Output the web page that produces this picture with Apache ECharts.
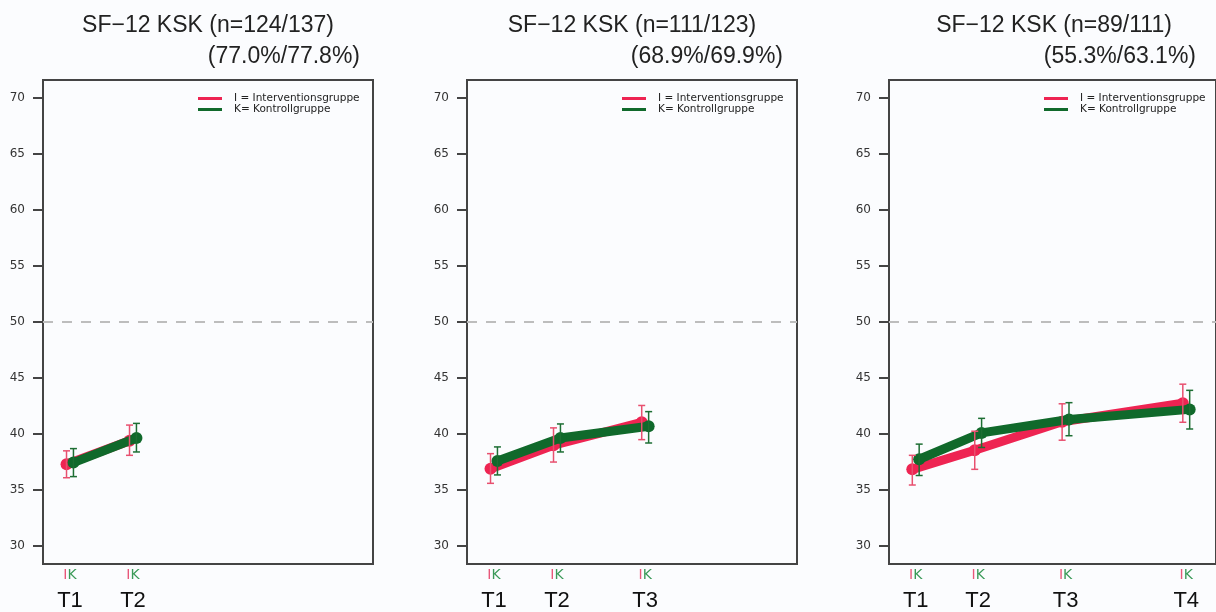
<!DOCTYPE html>
<html>
<head>
<meta charset="utf-8">
<script src="https://cdn.jsdelivr.net/npm/echarts@6/dist/echarts.min.js"></script>
<style>
  html, body { margin: 0; padding: 0; background: #fbfcfe; }
  #chart { width: 1216px; height: 612px; }
</style>
</head>
<body>
<div id="chart"></div>
<script>
// time points (x position in study weeks, roughly) and labels
const timeLabels = ['T1', 'T2', 'T3', 'T4'];
const timePos = [0, 6, 14.4, 26];
const yTicks = [30, 35, 40, 45, 50, 55, 60, 65, 70];

const titleLines = ['SF\u221212 KSK (n=124/137)', 'SF\u221212 KSK (n=111/123)', 'SF\u221212 KSK (n=89/111)'];
const subLines = ['(77.0%/77.8%)', '(68.9%/69.9%)', '(55.3%/63.1%)'];

// panel 1
const iMean1 = [37.3, 39.4];
const iLow1 = [36.1, 38.1];
const iHigh1 = [38.5, 40.8];
const kMean1 = [37.45, 39.65];
const kLow1 = [36.2, 38.4];
const kHigh1 = [38.7, 40.95];

// panel 2
const iMean2 = [36.9, 39.0, 41.05];
const iLow2 = [35.6, 37.5, 39.5];
const iHigh2 = [38.25, 40.55, 42.55];
const kMean2 = [37.6, 39.65, 40.7];
const kLow2 = [36.35, 38.4, 39.2];
const kHigh2 = [38.85, 40.9, 42.0];

// panel 3
const iMean3 = [36.85, 38.55, 41.1, 42.75];
const iLow3 = [35.45, 36.85, 39.45, 41.05];
const iHigh3 = [38.1, 40.25, 42.7, 44.45];
const kMean3 = [37.75, 40.1, 41.3, 42.2];
const kLow3 = [36.3, 38.8, 39.85, 40.45];
const kHigh3 = [39.1, 41.4, 42.8, 43.9];

const panels = [
  { i: [iMean1, iLow1, iHigh1], k: [kMean1, kLow1, kHigh1] },
  { i: [iMean2, iLow2, iHigh2], k: [kMean2, kLow2, kHigh2] },
  { i: [iMean3, iLow3, iHigh3], k: [kMean3, kLow3, kHigh3] }
];

const RED = '#ee2452';
const GREEN = '#10692b';
const RED_ERR = '#e8506f';
const GREEN_ERR = '#1d6e33';
const NAME_I = 'I = Interventionsgruppe';
const NAME_K = 'K= Kontrollgruppe';

const gridLeft = [43, 467, 889];
const off = 0.33; // small dodge so I and K don't sit on top of each other

function errRender(color) {
  return function (params, api) {
    const x = api.value(0);
    const top = api.coord([x, api.value(2)]);
    const bot = api.coord([x, api.value(1)]);
    const w = 3.5;
    const style = { stroke: color, lineWidth: 1.5 };
    return {
      type: 'group',
      children: [
        { type: 'line', shape: { x1: top[0], y1: top[1], x2: bot[0], y2: bot[1] }, style },
        { type: 'line', shape: { x1: top[0] - w, y1: top[1], x2: top[0] + w, y2: top[1] }, style },
        { type: 'line', shape: { x1: bot[0] - w, y1: bot[1], x2: bot[0] + w, y2: bot[1] }, style }
      ]
    };
  };
}

const grids = [], xAxes = [], yAxes = [], series = [], legends = [], graphics = [];

panels.forEach((p, n) => {
  const nPts = p.i[0].length;
  const pos = timePos.slice(0, nPts);
  grids.push({
    left: gridLeft[n], top: 80, width: 330, height: 484,
    show: true, borderColor: '#444', borderWidth: 2, backgroundColor: 'transparent'
  });
  xAxes.push({
    type: 'value', gridIndex: n, min: -2.57, max: 28.86,
    axisLine: { show: true, onZero: false, lineStyle: { color: '#444', width: 2 } },
    axisTick: { show: false },
    splitLine: { show: false },
    axisLabel: {
      customValues: pos,
      margin: 4,
      formatter: function (v) {
        let idx = 0;
        timePos.forEach((t, j) => { if (Math.abs(t - v) < 1e-6) idx = j; });
        return '{i|I}{k|K}\n{t|' + timeLabels[idx] + '}';
      },
      rich: {
        i: { color: '#e8577a', fontSize: 14, lineHeight: 15, fontFamily: 'DejaVu Sans' },
        k: { color: '#3a9a58', fontSize: 14, lineHeight: 15, fontFamily: 'DejaVu Sans' },
        t: { color: '#111', fontSize: 22, lineHeight: 36, fontFamily: 'Liberation Sans' }
      }
    }
  });
  yAxes.push({
    type: 'value', gridIndex: n, min: 28.4, max: 71.6,
    axisLine: { show: true, onZero: false, lineStyle: { color: '#444', width: 2 } },
    axisTick: { show: true, length: 10, customValues: yTicks, lineStyle: { color: '#444', width: 2 } },
    splitLine: { show: false },
    axisLabel: {
      customValues: yTicks, margin: 18, color: '#333',
      fontSize: 12, fontFamily: 'DejaVu Sans'
    }
  });

  series.push({
    name: NAME_I, type: 'line', xAxisIndex: n, yAxisIndex: n, z: 2,
    data: pos.map((t, j) => [t - off, p.i[0][j]]),
    symbol: 'circle', symbolSize: 12, itemStyle: { color: RED },
    lineStyle: { color: RED, width: 9 },
    animation: false,
    markLine: {
      silent: true, symbol: 'none', label: { show: false },
      lineStyle: { color: '#bdbdbd', type: [10, 9], width: 2 },
      data: [{ yAxis: 50 }]
    }
  });
  series.push({
    name: NAME_K, type: 'line', xAxisIndex: n, yAxisIndex: n, z: 3,
    data: pos.map((t, j) => [t + off, p.k[0][j]]),
    symbol: 'circle', symbolSize: 12, itemStyle: { color: GREEN },
    lineStyle: { color: GREEN, width: 9 },
    animation: false
  });
  series.push({
    name: 'err I ' + n, type: 'custom', xAxisIndex: n, yAxisIndex: n, z: 4,
    renderItem: errRender(RED_ERR),
    data: pos.map((t, j) => [t - off, p.i[1][j], p.i[2][j]]),
    animation: false
  });
  series.push({
    name: 'err K ' + n, type: 'custom', xAxisIndex: n, yAxisIndex: n, z: 5,
    renderItem: errRender(GREEN_ERR),
    data: pos.map((t, j) => [t + off, p.k[1][j], p.k[2][j]]),
    animation: false
  });

  legends.push({
    left: gridLeft[n] + 150, top: 88, orient: 'vertical',
    itemWidth: 24, itemHeight: 3, itemGap: 0,
    selectedMode: false,
    textStyle: { fontSize: 10.5, lineHeight: 10, color: '#222', fontFamily: 'DejaVu Sans', padding: [0, 0, 0, 7] },
    data: [{ name: NAME_I, icon: 'rect' }, { name: NAME_K, icon: 'rect' }]
  });

  const cx = gridLeft[n] + 165;
  graphics.push({
    type: 'text', x: cx, y: 26,
    style: { text: titleLines[n], textAlign: 'center', textVerticalAlign: 'middle',
      font: '23px "Liberation Sans"', fill: '#222' }
  });
  const subRight = [360, 783, 1196][n];
  graphics.push({
    type: 'text', x: subRight, y: 57,
    style: { text: subLines[n], textAlign: 'right', textVerticalAlign: 'middle',
      font: '23px "Liberation Sans"', fill: '#222' }
  });
});

const chart = echarts.init(document.getElementById('chart'), null, { renderer: 'canvas' });
chart.setOption({
  backgroundColor: '#fbfcfe',
  animation: false,
  grid: grids,
  xAxis: xAxes,
  yAxis: yAxes,
  legend: legends,
  graphic: graphics,
  series: series
});
</script>
</body>
</html>
